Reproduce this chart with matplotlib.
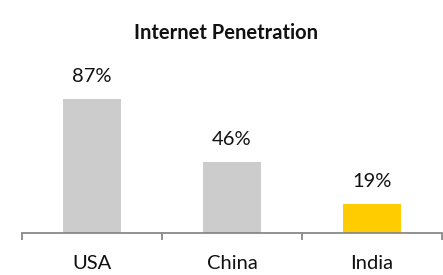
import numpy as np
import matplotlib.pyplot as plt

countries = ['USA', 'China', 'India']
penetration = [87, 46, 19]
bar_colors = ['#cccccc', '#cccccc', '#ffcc00']

plt.rcParams['font.family'] = ['Lato', 'DejaVu Sans']

fig = plt.figure(figsize=(4.43, 2.75), dpi=100)
ax = fig.add_axes([22/443, 42/275, 420/443, 154/275])

x = np.arange(len(countries))
bars = ax.bar(x, penetration, width=0.41, color=bar_colors)

for rect, v in zip(bars, penetration):
    ax.annotate(f'{v}%', (rect.get_x() + rect.get_width()/2, rect.get_height()),
                xytext=(0, 10), textcoords='offset points',
                ha='center', va='bottom', fontsize=14.5, color='#111111')

ax.set_xlim(-0.5, 2.5)
ax.set_ylim(0, 100)

# ticks and spines
for s in ['top', 'right', 'left']:
    ax.spines[s].set_visible(False)
ax.spines['bottom'].set_color('#888888')
ax.spines['bottom'].set_linewidth(1.3)
ax.set_yticks([])
ax.set_xticks(x)
ax.set_xticklabels(countries, fontsize=14.5, color='#111111')
ax.tick_params(axis='x', which='major', length=0, pad=16)
ax.set_xticks([-0.5, 0.5, 1.5, 2.5], minor=True)
ax.tick_params(axis='x', which='minor', length=5, width=1.3, color='#888888', direction='out')

fig.text(0.51, 1 - 33/275, 'Internet Penetration', ha='center', va='center',
         fontsize=14.5, fontweight='bold', color='#111111')

fig.savefig('out.png', dpi=100)
